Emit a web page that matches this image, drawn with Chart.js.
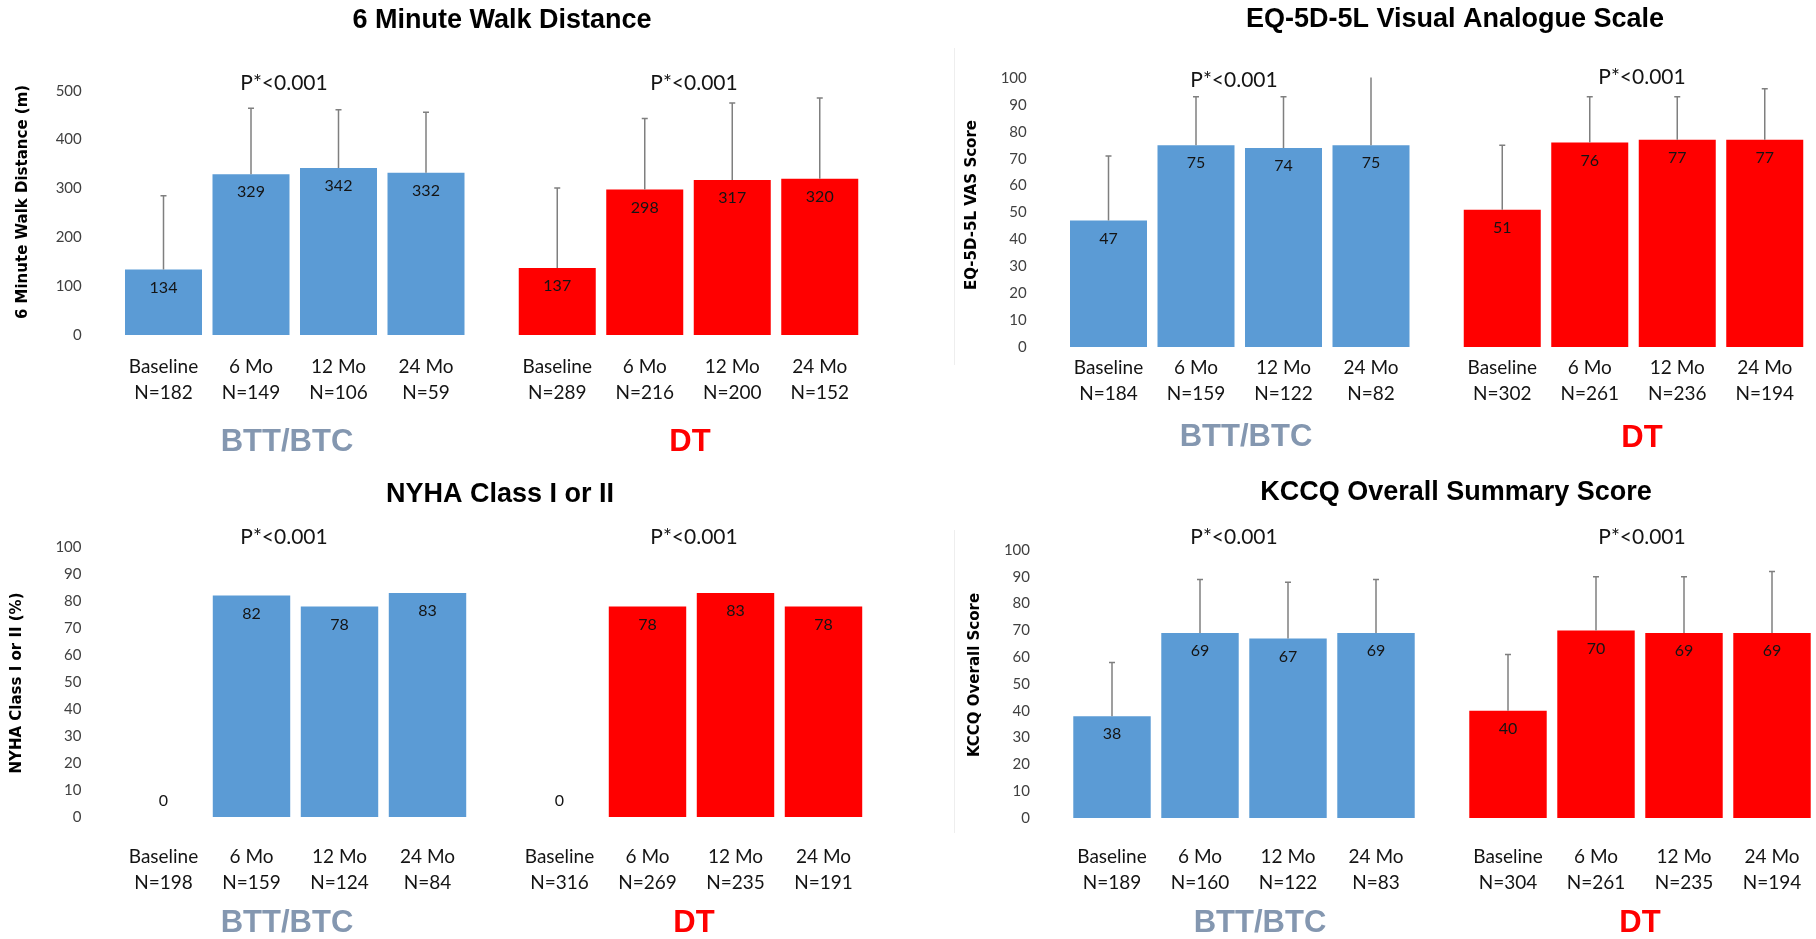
<!DOCTYPE html>
<html>
<head>
<meta charset="utf-8">
<title>Functional status and quality of life by implant strategy</title>
<script src="https://cdn.jsdelivr.net/npm/chart.js@4.4.1/dist/chart.umd.min.js"></script>
<style>
  html, body { margin: 0; padding: 0; background: #ffffff; }
  #board { position: relative; width: 1816px; height: 939px; overflow: hidden; background: #ffffff; }
  #board canvas { position: absolute; }
</style>
</head>
<body>
<div id="board">
  <canvas id="walk" width="908" height="470" style="left:0px;top:0px"></canvas>
  <canvas id="vas" width="908" height="470" style="left:908px;top:0px"></canvas>
  <canvas id="nyha" width="908" height="469" style="left:0px;top:470px"></canvas>
  <canvas id="kccq" width="908" height="469" style="left:908px;top:470px"></canvas>
</div>
<script>
// ---- shared categories ----
const timepoints = ['Baseline', '6 Mo', '12 Mo', '24 Mo'];
const groupNames = ['BTT/BTC', 'DT'];
const pValueText = 'P*<0.001';

// ---- 6 minute walk distance (m): mean, SD, N ----
const walkTitle = '6 Minute Walk Distance';
const walkAxisTitle = '6 Minute Walk Distance (m)';
const walkTicks = [0, 100, 200, 300, 400, 500];
const walkBtt = [134, 329, 342, 332];
const walkBttSd = [151, 135, 119, 124];
const walkBttN = [182, 149, 106, 59];
const walkDt = [137, 298, 317, 320];
const walkDtSd = [164, 145, 158, 165];
const walkDtN = [289, 216, 200, 152];

// ---- EQ-5D-5L visual analogue scale ----
const vasTitle = 'EQ-5D-5L Visual Analogue Scale';
const vasAxisTitle = 'EQ-5D-5L VAS Score';
const vasTicks = [0, 10, 20, 30, 40, 50, 60, 70, 80, 90, 100];
const vasBtt = [47, 75, 74, 75];
const vasBttSd = [24, 18, 19, 26];
const vasBttN = [184, 159, 122, 82];
const vasDt = [51, 76, 77, 77];
const vasDtSd = [24, 17, 16, 19];
const vasDtN = [302, 261, 236, 194];

// ---- NYHA class I or II (%) ----
const nyhaTitle = 'NYHA Class I or II';
const nyhaAxisTitle = 'NYHA Class I or II (%)';
const nyhaTicks = [0, 10, 20, 30, 40, 50, 60, 70, 80, 90, 100];
const nyhaBtt = [0, 82, 78, 83];
const nyhaBttN = [198, 159, 124, 84];
const nyhaDt = [0, 78, 83, 78];
const nyhaDtN = [316, 269, 235, 191];

// ---- KCCQ overall summary score ----
const kccqTitle = 'KCCQ Overall Summary Score';
const kccqAxisTitle = 'KCCQ Overall Score';
const kccqTicks = [0, 10, 20, 30, 40, 50, 60, 70, 80, 90, 100];
const kccqBtt = [38, 69, 67, 69];
const kccqBttSd = [20, 20, 21, 20];
const kccqBttN = [189, 160, 122, 83];
const kccqDt = [40, 70, 69, 69];
const kccqDtSd = [21, 20, 21, 23];
const kccqDtN = [304, 261, 235, 194];

// ---- styling ----
const groupColors = ['#5B9BD5', '#FF0000'];
const groupLabelColors = ['#8497B0', '#FF0000'];
const whiskerColor = '#7f7f7f';
const textColor = '#141414';
const labelFont = 'Lato, "Open Sans", sans-serif';
const headFont = '"Liberation Sans", Arial, sans-serif';
const axisTitleFont = '"DejaVu Sans", Verdana, sans-serif';

// x positions of the two groups of four bars on a shared linear axis
const groupOffsets = [0, 4.5];

// plot geometry of each panel, in canvas pixels
const panelGeometry = {
  walk: { w: 908, h: 470, area: { l: 119.75, r: 863.5, t: 90.7, b: 335 }, labelPad: 19,
          title: [502, 21], axisTitle: [23, 202], pvals: [[284, 83], [694, 83]],
          groups: [[287, 442], [690, 442]], frame: null },
  vas:  { w: 908, h: 470, area: { l: 156.75, r: 900.5, t: 78, b: 347 }, labelPad: 8,
          title: [547, 20], axisTitle: [64, 205], pvals: [[326, 80], [734, 77]],
          groups: [[338, 437], [734, 438]], frame: [46, 48, 365] },
  nyha: { w: 908, h: 469, area: { l: 119.5, r: 867.5, t: 77, b: 347 }, labelPad: 27,
          title: [500, 25], axisTitle: [17, 213], pvals: [[284, 67], [694, 67]],
          groups: [[287, 453], [694, 453]], frame: null },
  kccq: { w: 908, h: 469, area: { l: 160, r: 908, t: 80, b: 348 }, labelPad: 26,
          title: [548, 23], axisTitle: [67, 205], pvals: [[326, 67], [734, 67]],
          groups: [[352, 453], [732, 453]], frame: [46, 60, 363] }
};

// whiskers (mean + SD), value labels and panel text
const panelDecor = {
  id: 'panelDecor',
  afterDatasetsDraw(chart, args, opts) {
    const ctx = chart.ctx;
    const area = chart.chartArea;
    const yScale = chart.scales.y;
    const g = opts.geometry;

    // upper error whiskers, clipped to the plot area
    ctx.save();
    ctx.beginPath();
    ctx.rect(area.left, area.top - 0.5, area.right - area.left, area.bottom - area.top + 1);
    ctx.clip();
    ctx.strokeStyle = whiskerColor;
    ctx.lineWidth = 1.5;
    chart.data.datasets.forEach((ds, di) => {
      if (!ds.sd) return;
      chart.getDatasetMeta(di).data.forEach((bar, i) => {
        const topPx = yScale.getPixelForValue(ds.data[i].y + ds.sd[i]);
        ctx.beginPath();
        ctx.moveTo(bar.x, bar.y);
        ctx.lineTo(bar.x, topPx);
        ctx.moveTo(bar.x - 3, topPx);
        ctx.lineTo(bar.x + 3, topPx);
        ctx.stroke();
      });
    });
    ctx.restore();

    // value labels inside the top of each bar
    ctx.save();
    ctx.fillStyle = textColor;
    ctx.font = '16px ' + labelFont;
    ctx.textAlign = 'center';
    ctx.textBaseline = 'middle';
    chart.data.datasets.forEach((ds, di) => {
      chart.getDatasetMeta(di).data.forEach((bar, i) => {
        const v = ds.data[i].y;
        const yy = v === 0 ? bar.y - 16 : bar.y + 18;
        ctx.fillText(String(v), bar.x, yy);
      });
    });
    ctx.restore();

    // panel title, p-values, group names, axis title
    ctx.save();
    ctx.textAlign = 'center';
    ctx.textBaseline = 'middle';
    ctx.fillStyle = '#000000';
    ctx.font = 'bold 27px ' + headFont;
    ctx.fillText(opts.title, g.title[0], g.title[1]);

    ctx.fillStyle = textColor;
    ctx.font = '21px ' + labelFont;
    g.pvals.forEach(p => ctx.fillText(pValueText, p[0], p[1]));

    ctx.font = 'bold 31px ' + headFont;
    g.groups.forEach((p, k) => {
      ctx.fillStyle = groupLabelColors[k];
      ctx.fillText(groupNames[k], p[0], p[1]);
    });

    ctx.fillStyle = '#000000';
    ctx.font = 'bold 15px ' + axisTitleFont;
    ctx.translate(g.axisTitle[0], g.axisTitle[1]);
    ctx.rotate(-Math.PI / 2);
    ctx.fillText(opts.axisTitle, 0, 0);
    ctx.restore();

    if (g.frame) {
      ctx.save();
      ctx.strokeStyle = '#eeeeee';
      ctx.lineWidth = 1;
      ctx.beginPath();
      ctx.moveTo(g.frame[0] + 0.5, g.frame[1]);
      ctx.lineTo(g.frame[0] + 0.5, g.frame[2]);
      ctx.stroke();
      ctx.restore();
    }
  }
};

function buildPanel(canvasId, title, axisTitle, ticks, series) {
  const g = panelGeometry[canvasId];
  const positions = [];
  const tickLabels = [];
  series.forEach((s, k) => {
    s.values.forEach((v, i) => {
      positions.push(groupOffsets[k] + i);
      tickLabels.push([timepoints[i], 'N=' + s.n[i]]);
    });
  });

  const datasets = series.map((s, k) => ({
    label: groupNames[k],
    data: s.values.map((v, i) => ({ x: groupOffsets[k] + i, y: v })),
    sd: s.sd || null,
    backgroundColor: groupColors[k],
    borderWidth: 0,
    grouped: false,
    categoryPercentage: 1,
    barPercentage: 0.88
  }));

  return new Chart(document.getElementById(canvasId), {
    type: 'bar',
    data: { datasets },
    options: {
      responsive: false,
      animation: false,
      events: [],
      layout: { padding: { left: 0, top: g.area.t, right: g.w - g.area.r, bottom: 0 } },
      plugins: {
        legend: { display: false },
        tooltip: { enabled: false },
        panelDecor: { geometry: g, title, axisTitle }
      },
      scales: {
        x: {
          type: 'linear',
          offset: false,
          bounds: 'data',
          min: -0.5,
          max: 8,
          grid: { display: false, drawTicks: false, offset: false },
          border: { display: false },
          afterBuildTicks: (scale) => { scale.ticks = positions.map(v => ({ value: v })); },
          afterFit: (scale) => {
            scale.height = g.h - g.area.b;
            scale.paddingLeft = 0;
            scale.paddingRight = 0;
          },
          ticks: {
            autoSkip: false,
            maxRotation: 0,
            minRotation: 0,
            padding: g.labelPad,
            color: textColor,
            font: { family: labelFont, size: 19, lineHeight: '26px' },
            callback: (value, index) => tickLabels[index]
          }
        },
        y: {
          min: ticks[0],
          max: ticks[ticks.length - 1],
          grid: { display: false, drawTicks: false },
          border: { display: false },
          afterBuildTicks: (scale) => { scale.ticks = ticks.map(v => ({ value: v })); },
          afterFit: (scale) => {
            scale.width = g.area.l;
            scale.paddingTop = 0;
            scale.paddingBottom = 0;
          },
          ticks: {
            padding: 38,
            color: '#404040',
            font: { family: labelFont, size: 15 }
          }
        }
      }
    },
    plugins: [panelDecor]
  });
}

buildPanel('walk', walkTitle, walkAxisTitle, walkTicks, [
  { values: walkBtt, sd: walkBttSd, n: walkBttN },
  { values: walkDt, sd: walkDtSd, n: walkDtN }
]);
buildPanel('vas', vasTitle, vasAxisTitle, vasTicks, [
  { values: vasBtt, sd: vasBttSd, n: vasBttN },
  { values: vasDt, sd: vasDtSd, n: vasDtN }
]);
buildPanel('nyha', nyhaTitle, nyhaAxisTitle, nyhaTicks, [
  { values: nyhaBtt, n: nyhaBttN },
  { values: nyhaDt, n: nyhaDtN }
]);
buildPanel('kccq', kccqTitle, kccqAxisTitle, kccqTicks, [
  { values: kccqBtt, sd: kccqBttSd, n: kccqBttN },
  { values: kccqDt, sd: kccqDtSd, n: kccqDtN }
]);
</script>
</body>
</html>
